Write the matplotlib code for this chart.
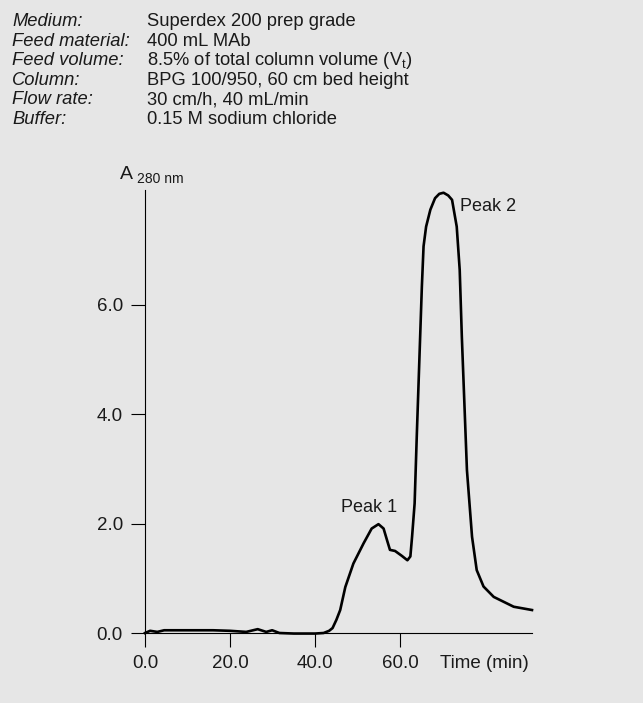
import matplotlib.pyplot as plt

plt.rcParams['font.family'] = ['Liberation Sans', 'DejaVu Sans']

# conditions printed above the chart
cond_labels = ['Medium:', 'Feed material:', 'Feed volume:', 'Column:', 'Flow rate:', 'Buffer:']
cond_values = ['Superdex 200 prep grade',
               '400 mL MAb',
               '8.5% of total column volume (V$_\\mathregular{t}$)',
               'BPG 100/950, 60 cm bed height',
               '30 cm/h, 40 mL/min',
               '0.15 M sodium chloride']

# chromatogram
time_min = [0, 1.2, 2.9, 4.5, 8, 12, 16, 20, 23.8, 26.5, 28.5, 29.9, 31.6, 35, 40, 42,
            43.3, 44.1, 45.0, 45.9, 47.1, 49.0, 51.4, 53.3, 54.9, 56.1, 56.9, 57.6, 58.8,
            60.4, 61.7, 62.4, 62.8, 63.4, 63.9, 64.7, 65.1, 65.5, 66.1, 67.1, 68.2, 69.2,
            70.2, 71.3, 72.2, 73.3, 74.0, 74.5, 75.1, 75.7, 76.9, 78.0, 79.6, 82.0, 86.7,
            91.0]
a280 = [0.0, 0.04, 0.02, 0.05, 0.05, 0.05, 0.05, 0.04, 0.02, 0.07, 0.02, 0.05, 0.0, -0.01,
        -0.01, 0.0, 0.04, 0.09, 0.24, 0.42, 0.84, 1.27, 1.64, 1.91, 1.99, 1.91, 1.70, 1.52,
        1.50, 1.41, 1.33, 1.40, 1.76, 2.37, 3.59, 5.42, 6.33, 7.07, 7.43, 7.74, 7.95, 8.03,
        8.05, 8.00, 7.92, 7.43, 6.64, 5.42, 4.20, 2.98, 1.76, 1.15, 0.85, 0.66, 0.48, 0.42]

xticks = [0, 20, 40, 60]
yticks = [0, 2, 4, 6]

bg = '#e6e6e6'
fig = plt.figure(figsize=(6.43, 7.03), dpi=100, facecolor=bg)
W, H = 643, 703

# header block
for i, (lab, val) in enumerate(zip(cond_labels, cond_values)):
    yb = 1 - (26 + i * 19.6) / H
    fig.text(12 / W, yb, lab, fontsize=13.2, style='italic', va='baseline', color='#1a1a1a')
    fig.text(147 / W, yb, val, fontsize=13.2, va='baseline', color='#1a1a1a')

ax = fig.add_axes([145 / W, 1 - 633 / H, (532 - 145) / W, (633 - 190) / H])
ax.set_facecolor(bg)
ax.plot(time_min, a280, color='black', lw=1.9, solid_joinstyle='round', clip_on=False)
ax.set_xlim(0, 91)
ax.set_ylim(0, 8.10)

for s in ['top', 'right']:
    ax.spines[s].set_visible(False)
for s in ['left', 'bottom']:
    ax.spines[s].set_linewidth(0.8)

ax.set_xticks(xticks)
ax.set_xticklabels(['%.1f' % v for v in xticks])
ax.set_yticks(yticks)
ax.set_yticklabels(['%.1f' % v for v in yticks])
ax.tick_params(axis='both', length=10, width=0.8, labelsize=13.5, labelcolor='#1a1a1a')
ax.tick_params(axis='y', pad=6)
ax.tick_params(axis='x', pad=6)

ax.annotate('Time (min)', xy=(1, 0), xycoords='axes fraction', xytext=(-2, -16),
            textcoords='offset points', ha='right', va='top', fontsize=13.5, color='#1a1a1a')
ax.annotate('A', xy=(0, 1), xycoords='axes fraction', xytext=(-18, 8),
            textcoords='offset points', ha='left', va='baseline', fontsize=14, color='#1a1a1a')
ax.annotate('280 nm', xy=(0, 1), xycoords='axes fraction', xytext=(-6, 5),
            textcoords='offset points', ha='left', va='baseline', fontsize=10, color='#1a1a1a')

ax.text(52.8, 2.21, 'Peak 1', fontsize=13, ha='center', va='baseline', color='#1a1a1a')
ax.text(74.1, 7.72, 'Peak 2', fontsize=13, ha='left', va='baseline', color='#1a1a1a')

fig.savefig('out.png', dpi=100, facecolor=bg)
